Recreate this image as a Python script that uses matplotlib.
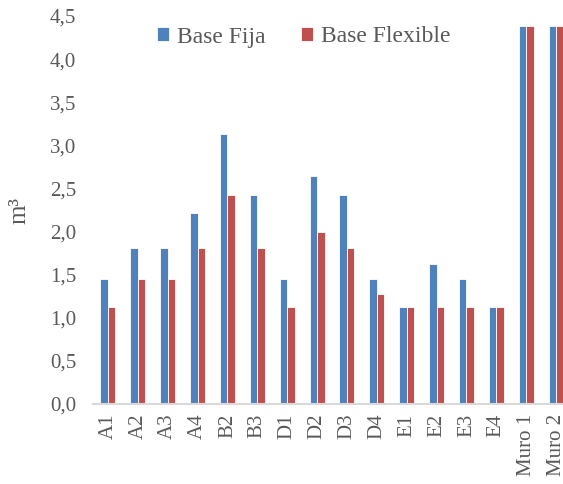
import numpy as np
import matplotlib.pyplot as plt

# Volúmenes por elemento (m3)
elementos = ['A1', 'A2', 'A3', 'A4', 'B2', 'B3', 'D1', 'D2', 'D3', 'D4',
             'E1', 'E2', 'E3', 'E4', 'Muro 1', 'Muro 2']
base_fija = [1.45, 1.81, 1.81, 2.21, 3.13, 2.42, 1.45, 2.65, 2.42, 1.45,
             1.13, 1.62, 1.45, 1.13, 4.38, 4.38]
base_flexible = [1.13, 1.45, 1.45, 1.81, 2.42, 1.81, 1.13, 2.00, 1.81, 1.28,
                 1.13, 1.13, 1.13, 1.13, 4.38, 4.38]
ticks_y = [0.0, 0.5, 1.0, 1.5, 2.0, 2.5, 3.0, 3.5, 4.0, 4.5]

plt.rcParams['font.family'] = ['Liberation Serif', 'DejaVu Serif']

fig = plt.figure(figsize=(5.63, 4.84), dpi=100)
ax = fig.add_axes([93 / 563, 80 / 484, 478 / 563, 388 / 484])

x = np.arange(len(elementos))
w = 0.25
ax.bar(x - w / 2, base_fija, w, color='#4F81BD', edgecolor='white',
       linewidth=0.6, label='Base Fija')
ax.bar(x + w / 2, base_flexible, w, color='#C0504D', edgecolor='white',
       linewidth=0.6, label='Base Flexible')

ax.set_xlim(-0.5, len(elementos) - 0.5)
ax.set_ylim(0, 4.5)
ax.set_yticks(ticks_y)
ax.set_yticklabels([f'{v:.1f}'.replace('.', ',') for v in ticks_y])
ax.set_xticks(x)
ax.set_xticklabels(elementos, rotation=90)

for s in ['top', 'right', 'left']:
    ax.spines[s].set_visible(False)
ax.spines['bottom'].set_color('#D9D9D9')
ax.spines['bottom'].set_linewidth(1.5)
ax.tick_params(axis='both', length=0, labelsize=15, colors='#595959')
ax.tick_params(axis='y', pad=12)
ax.tick_params(axis='x', pad=7)

ax.set_ylabel('m³', fontsize=18, color='#595959', labelpad=14)

ax.legend(loc='center', bbox_to_anchor=(304 / 563, 1 - 37 / 484),
          bbox_transform=fig.transFigure, ncol=2, frameon=False,
          fontsize=17, handlelength=0.5, handleheight=0.5,
          handletextpad=0.35, columnspacing=1.5, labelcolor='#595959')

plt.savefig('out.png', dpi=100)
